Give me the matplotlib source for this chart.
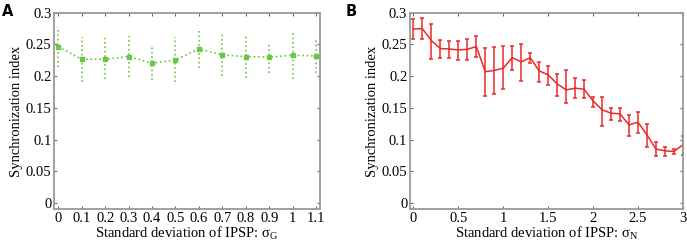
import matplotlib
matplotlib.use("Agg")
import matplotlib.pyplot as plt
import numpy as np

plt.rcParams['font.family'] = ['Liberation Serif', 'DejaVu Serif']
plt.rcParams['mathtext.fontset'] = 'custom'
plt.rcParams['mathtext.rm'] = 'Liberation Serif'
plt.rcParams['mathtext.it'] = 'Liberation Serif'

# Panel A: sigma_G
sigma_g = [0, 0.1, 0.2, 0.3, 0.4, 0.5, 0.6, 0.7, 0.8, 0.9, 1.0, 1.1]
sync_g = [0.2465, 0.2266, 0.2266, 0.2308, 0.2203, 0.2255, 0.2428, 0.2334, 0.2308, 0.2300, 0.2329, 0.2318]
upper_g = [0.277, 0.262, 0.2596, 0.2638, 0.2465, 0.262, 0.2738, 0.266, 0.2638, 0.2544, 0.269, 0.258]
lower_g = [0.215, 0.190, 0.195, 0.199, 0.194, 0.190, 0.2124, 0.2003, 0.1977, 0.2056, 0.195, 0.2056]

# Panel B: sigma_N
sigma_n = [0, 0.1, 0.2, 0.3, 0.4, 0.5, 0.6, 0.7, 0.8, 0.9, 1.0, 1.1, 1.2, 1.3, 1.4, 1.5,
           1.6, 1.7, 1.8, 1.9, 2.0, 2.1, 2.2, 2.3, 2.4, 2.5, 2.6, 2.7, 2.8, 2.9, 3.0]
sync_n = [0.2743, 0.2748, 0.256, 0.2434, 0.2428, 0.2413, 0.2423, 0.2465, 0.207, 0.209, 0.2124,
          0.2292, 0.2224, 0.2292, 0.2082, 0.2019, 0.1878, 0.1783, 0.181, 0.1794, 0.161, 0.1469,
          0.1416, 0.1406, 0.1232, 0.1274, 0.1075, 0.085, 0.0823, 0.0813, 0.0918]
upper_n = [0.290, 0.292, 0.2816, 0.257, 0.256, 0.256, 0.2586, 0.264, 0.245, 0.2465, 0.2476,
           0.2476, 0.250, 0.237, 0.2229, 0.2166, 0.2035, 0.2098, 0.1967, 0.194, 0.1678, 0.1678,
           0.1495, 0.1495, 0.139, 0.1427, 0.1243, 0.096, 0.089, 0.0855, 0.1049]
lower_n = [0.258, 0.258, 0.2266, 0.228, 0.229, 0.2255, 0.2255, 0.2297, 0.168, 0.172, 0.1794,
           0.2098, 0.193, 0.2213, 0.1914, 0.186, 0.1689, 0.1584, 0.1663, 0.165, 0.152, 0.1217,
           0.131, 0.130, 0.106, 0.111, 0.089, 0.0745, 0.0745, 0.0776, 0.076]

yticks = [0, 0.05, 0.1, 0.15, 0.2, 0.25, 0.3]
ytick_labels = ['0', '0.05', '0.1', '0.15', '0.2', '0.25', '0.3']

FS = 10.5


def style_axes(ax):
    for sp in ax.spines.values():
        sp.set_color('#999999')
        sp.set_linewidth(1.3)
    ax.tick_params(direction='in', top=True, right=True, length=2.5, width=0.8,
                   color='#666666', labelsize=FS, pad=2)
    ax.set_yticks(yticks)
    ax.set_yticklabels(ytick_labels)
    ax.set_ylim(-0.01, 0.3)
    ax.set_ylabel('Synchronization index', fontsize=FS, labelpad=2)


def errs(mean, lo, hi):
    mean = np.array(mean)
    return [mean - np.array(lo), np.array(hi) - mean]


fig = plt.figure(figsize=(6.87, 2.44), dpi=100)

ax1 = fig.add_axes([0.079, 0.142, 0.387, 0.806])
eb = ax1.errorbar(sigma_g, sync_g, yerr=errs(sync_g, lower_g, upper_g), color='#66c844',
                  ls=':', lw=1.2, marker='s', ms=2.5, elinewidth=1.2, capsize=0)
eb[-1][0].set_linestyle(':')
ax1.set_xlim(-0.017, 1.117)
ax1.set_xticks(sigma_g)
ax1.set_xticklabels(['0', '0.1', '0.2', '0.3', '0.4', '0.5', '0.6', '0.7', '0.8', '0.9', '1', '1.1'])
ax1.set_xlabel(r'Standard deviation of IPSP: $\mathregular{\sigma_G}$', fontsize=FS, labelpad=0)
style_axes(ax1)

ax2 = fig.add_axes([0.597, 0.142, 0.397, 0.806])
ax2.errorbar(sigma_n, sync_n, yerr=errs(sync_n, lower_n, upper_n), color='#ea2a2a',
             ls='-', lw=1.1, elinewidth=1.1, capsize=1.5, capthick=1.1)
ax2.set_xlim(-0.037, 3.0)
ax2.set_xticks([0, 0.5, 1, 1.5, 2, 2.5, 3])
ax2.set_xticklabels(['0', '0.5', '1', '1.5', '2', '2.5', '3'])
ax2.set_xlabel(r'Standard deviation of IPSP: $\mathregular{\sigma_N}$', fontsize=FS, labelpad=0)
style_axes(ax2)

fig.text(0.003, 0.985, 'A', fontsize=10.5, fontweight='bold', family='DejaVu Sans', va='top')
fig.text(0.503, 0.985, 'B', fontsize=10.5, fontweight='bold', family='DejaVu Sans', va='top')

fig.savefig('out.png', dpi=100)
